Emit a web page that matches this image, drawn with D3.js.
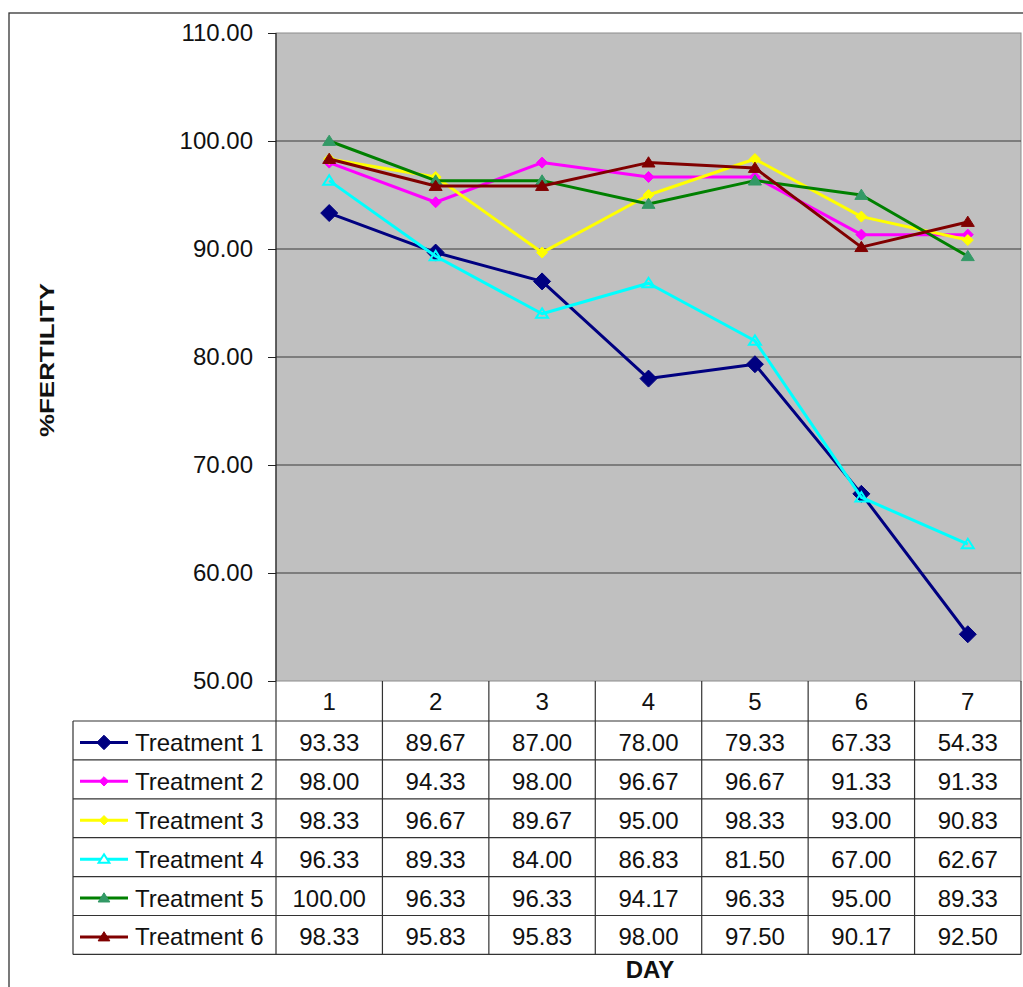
<!DOCTYPE html>
<html>
<head>
<meta charset="utf-8">
<script src="https://cdn.jsdelivr.net/npm/d3@7"></script>
<style>
  html, body { margin: 0; padding: 0; background: #fff; }
  svg { display: block; font-family: Arial, "Liberation Sans", sans-serif; }
</style>
</head>
<body>
<svg id="chart" width="1023" height="987"></svg>
<script>
// Days of the trial and the fertility readings (%) for each treatment
const days = ["1", "2", "3", "4", "5", "6", "7"];
const treatmentNames = ["Treatment 1", "Treatment 2", "Treatment 3", "Treatment 4", "Treatment 5", "Treatment 6"];
const treatment1 = [93.33, 89.67, 87.00, 78.00, 79.33, 67.33, 54.33];
const treatment2 = [98.00, 94.33, 98.00, 96.67, 96.67, 91.33, 91.33];
const treatment3 = [98.33, 96.67, 89.67, 95.00, 98.33, 93.00, 90.83];
const treatment4 = [96.33, 89.33, 84.00, 86.83, 81.50, 67.00, 62.67];
const treatment5 = [100.00, 96.33, 96.33, 94.17, 96.33, 95.00, 89.33];
const treatment6 = [98.33, 95.83, 95.83, 98.00, 97.50, 90.17, 92.50];
const yTicks = [50, 60, 70, 80, 90, 100, 110];

// Series styling: line colour, marker shape / size / fill
const styles = [
  { line: "#000080", marker: "diamond", size: 8.5, fill: "#000080", stroke: "#000080" },
  { line: "#ff00ff", marker: "diamond", size: 5.5, fill: "#ff00ff", stroke: "#ff00ff" },
  { line: "#ffff00", marker: "diamond", size: 5.5, fill: "#ffff00", stroke: "#ffff00" },
  { line: "#00ffff", marker: "triangle", size: 6, fill: "none", stroke: "#00ffff" },
  { line: "#008000", marker: "triangle", size: 6.5, fill: "#339966", stroke: "#339966" },
  { line: "#800000", marker: "triangle", size: 6.5, fill: "#800000", stroke: "#800000" }
];

const seriesValues = [treatment1, treatment2, treatment3, treatment4, treatment5, treatment6];
const series = treatmentNames.map((name, i) => ({ name, values: seriesValues[i], style: styles[i] }));

const svg = d3.select("#chart");
const plot = { left: 276, right: 1021, top: 33, bottom: 681 };
const tableLeft = 73;
const headerH = 40;
const rowH = 38.9;

const x = d3.scaleBand().domain(days).range([plot.left, plot.right]);
const y = d3.scaleLinear().domain([50, 110]).range([plot.bottom, plot.top]);
const fmt = d3.format(".2f");

// Outer chart frame
svg.append("rect")
  .attr("x", 9).attr("y", 13)
  .attr("width", 1040).attr("height", 1000)
  .attr("fill", "none").attr("stroke", "#333").attr("stroke-width", 1.3);

// Plot area background
svg.append("rect")
  .attr("x", plot.left).attr("y", plot.top)
  .attr("width", plot.right - plot.left).attr("height", plot.bottom - plot.top)
  .attr("fill", "#c0c0c0").attr("stroke", "#8c8c8c").attr("stroke-width", 1);

// Horizontal gridlines
svg.append("g")
  .selectAll("line")
  .data(yTicks.filter(t => t > 50 && t < 110))
  .join("line")
  .attr("x1", plot.left).attr("x2", plot.right)
  .attr("y1", d => y(d)).attr("y2", d => y(d))
  .attr("stroke", "#3a3a3a").attr("stroke-width", 1);

// Value axis
const yAxis = svg.append("g")
  .attr("transform", `translate(${plot.left},0)`)
  .call(d3.axisLeft(y).tickValues(yTicks).tickFormat(fmt).tickSize(8).tickPadding(15));
yAxis.select(".domain").attr("stroke", "#222").attr("stroke-width", 1.2).attr("d", `M0,${plot.top}V${plot.bottom}`);
yAxis.selectAll(".tick line").attr("stroke", "#222");
yAxis.selectAll(".tick text")
  .attr("font-size", 24).attr("fill", "#111")
  .attr("font-family", "Arial, 'Liberation Sans', sans-serif");

// Marker path generator
function markerPath(shape, s) {
  if (shape === "diamond") return `M0,${-s}L${s},0L0,${s}L${-s},0Z`;
  const h = s * 0.9;
  return `M0,${-h}L${s},${h * 0.75}L${-s},${h * 0.75}Z`;
}

// Series lines and markers (first series drawn first, last on top)
const line = d3.line().x((d, i) => x(days[i]) + x.bandwidth() / 2).y(d => y(d));
const lines = svg.append("g");
series.forEach(s => {
  const g = lines.append("g");
  g.append("path")
    .attr("d", line(s.values))
    .attr("fill", "none").attr("stroke", s.style.line)
    .attr("stroke-width", 3).attr("stroke-linejoin", "round");
  g.selectAll("path.m")
    .data(s.values)
    .join("path").attr("class", "m")
    .attr("transform", (d, i) => `translate(${x(days[i]) + x.bandwidth() / 2},${y(d)})`)
    .attr("d", markerPath(s.style.marker, s.style.size))
    .attr("fill", s.style.fill)
    .attr("stroke", s.style.stroke)
    .attr("stroke-width", s.style.fill === "none" ? 2 : 1);
});

// Data table under the plot
const table = svg.append("g");
const tableTop = plot.bottom;
const rowsTop = tableTop + headerH;
const tableBottom = rowsTop + rowH * series.length;
const gridColor = "#333";

// Header row: day numbers
table.selectAll("text.day")
  .data(days)
  .join("text").attr("class", "day")
  .attr("x", d => x(d) + x.bandwidth() / 2)
  .attr("y", tableTop + headerH / 2 + 9)
  .attr("text-anchor", "middle").attr("font-size", 24).attr("fill", "#111")
  .text(d => d);

// Horizontal rules of the table
const hRules = [rowsTop].concat(series.map((s, i) => rowsTop + rowH * (i + 1)));
table.selectAll("line.h")
  .data(hRules)
  .join("line").attr("class", "h")
  .attr("x1", tableLeft).attr("x2", plot.right)
  .attr("y1", d => d).attr("y2", d => d)
  .attr("stroke", gridColor).attr("stroke-width", 1.2);

// Vertical rules: column separators through the header and body
table.selectAll("line.v")
  .data(days.map(d => x(d)).concat([plot.right]))
  .join("line").attr("class", "v")
  .attr("x1", d => d).attr("x2", d => d)
  .attr("y1", tableTop).attr("y2", tableBottom)
  .attr("stroke", gridColor).attr("stroke-width", 1.2);
table.append("line")
  .attr("x1", tableLeft).attr("x2", tableLeft)
  .attr("y1", rowsTop).attr("y2", tableBottom)
  .attr("stroke", gridColor).attr("stroke-width", 1.2);

// Body rows: legend key + values
series.forEach((s, r) => {
  const cy = rowsTop + rowH * (r + 0.5);
  const row = table.append("g");
  row.append("line")
    .attr("x1", 80).attr("x2", 128).attr("y1", cy + 2).attr("y2", cy + 2)
    .attr("stroke", s.style.line).attr("stroke-width", 3);
  row.append("path")
    .attr("transform", `translate(104,${cy + 2})`)
    .attr("d", markerPath(s.style.marker, s.style.size * (s.style.marker === "diamond" ? 0.85 : 0.9)))
    .attr("fill", s.style.fill === "none" ? "#fff" : s.style.fill)
    .attr("stroke", s.style.stroke)
    .attr("stroke-width", s.style.fill === "none" ? 2 : 1);
  row.append("text")
    .attr("x", 135).attr("y", cy + 10.5)
    .attr("font-size", 24).attr("fill", "#111")
    .text(s.name);
  row.selectAll("text.v")
    .data(s.values)
    .join("text").attr("class", "v")
    .attr("x", (d, i) => x(days[i]) + x.bandwidth() / 2)
    .attr("y", cy + 10.5)
    .attr("text-anchor", "middle").attr("font-size", 24).attr("fill", "#111")
    .text(d => fmt(d));
});

// Axis titles
svg.append("text")
  .attr("x", 650).attr("y", 978)
  .attr("text-anchor", "middle").attr("font-size", 24).attr("font-weight", "bold").attr("fill", "#111")
  .text("DAY");

svg.append("text")
  .attr("transform", "translate(54,360) rotate(-90)")
  .attr("text-anchor", "middle").attr("font-size", 21).attr("font-weight", "bold").attr("fill", "#111")
  .attr("textLength", 154).attr("lengthAdjust", "spacingAndGlyphs")
  .text("%FERTILITY");
</script>
</body>
</html>
